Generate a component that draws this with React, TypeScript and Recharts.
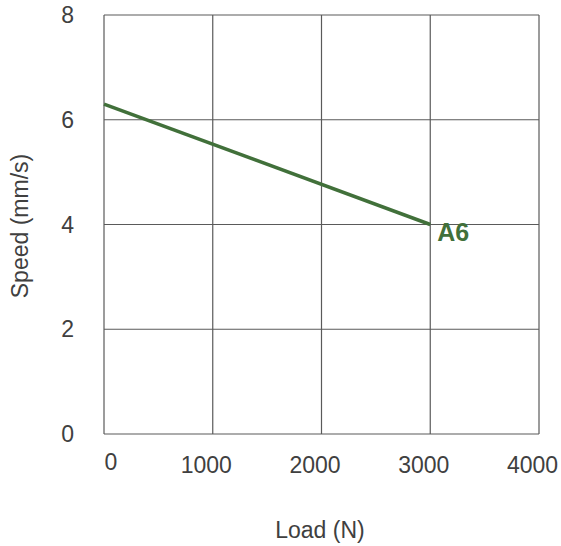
import React from 'react'
import { LineChart, Line, XAxis, YAxis, CartesianGrid, LabelList, Label } from 'recharts'

const loads = [0, 3000]
const speeds = [6.3, 4.0]
const xTicks = [0, 1000, 2000, 3000, 4000]
const yTicks = [0, 2, 4, 6, 8]
const seriesName = 'A6'
const xTitle = 'Load (N)'
const yTitle = 'Speed (mm/s)'

const data = loads.map((load, i) => ({ load, speed: speeds[i] }))

const FONT = '"Liberation Sans", Arial, sans-serif'
const TEXT = '#404040'
const GREEN = '#41703a'

const XTick = (props: any) => {
  const { x, y, payload } = props
  // the "0" label sits a bit right of its grid line and a touch higher
  const first = payload.value === 0
  return (
    <text
      x={x + (first ? 7 : -6.5)}
      y={y + (first ? 28 : 31)}
      textAnchor="middle"
      fontFamily={FONT}
      fontSize={23}
      fill={TEXT}
    >
      {payload.value}
    </text>
  )
}

const YTick = (props: any) => {
  const { x, y, payload } = props
  return (
    <text x={x - 22} y={y + 8} textAnchor="end" fontFamily={FONT} fontSize={23} fill={TEXT}>
      {payload.value}
    </text>
  )
}

const EndLabel = (props: any) => {
  const { x, y, index } = props
  if (index !== data.length - 1) return null
  return (
    <text x={x + 7} y={y + 16} fontFamily={FONT} fontSize={25} fontWeight="bold" fill={GREEN}>
      {seriesName}
    </text>
  )
}

export default function App() {
  return (
    <div style={{ position: 'absolute', left: 0, top: 0 }}>
      <LineChart
        width={561}
        height={546}
        data={data}
        margin={{ top: 15, right: 22, bottom: 0, left: 0 }}
      >
        <CartesianGrid stroke="#5a5a5a" strokeWidth={1.2} />
        <XAxis
          dataKey="load"
          type="number"
          domain={[0, 4000]}
          ticks={xTicks}
          axisLine={false}
          tickLine={false}
          height={112}
          tick={<XTick />}
        >
          <Label
            content={() => (
              <text x={320} y={538} textAnchor="middle" fontFamily={FONT} fontSize={23} fill={TEXT}>
                {xTitle}
              </text>
            )}
          />
        </XAxis>
        <YAxis
          type="number"
          domain={[0, 8]}
          ticks={yTicks}
          axisLine={false}
          tickLine={false}
          width={104}
          tick={<YTick />}
        >
          <Label
            content={() => (
              <text
                transform="translate(28,226) rotate(-90)"
                textAnchor="middle"
                fontFamily={FONT}
                fontSize={23}
                fill={TEXT}
              >
                {yTitle}
              </text>
            )}
          />
        </YAxis>
        <Line
          dataKey="speed"
          stroke={GREEN}
          strokeWidth={3.5}
          dot={false}
          isAnimationActive={false}
        >
          <LabelList dataKey="speed" content={<EndLabel />} />
        </Line>
      </LineChart>
    </div>
  )
}
